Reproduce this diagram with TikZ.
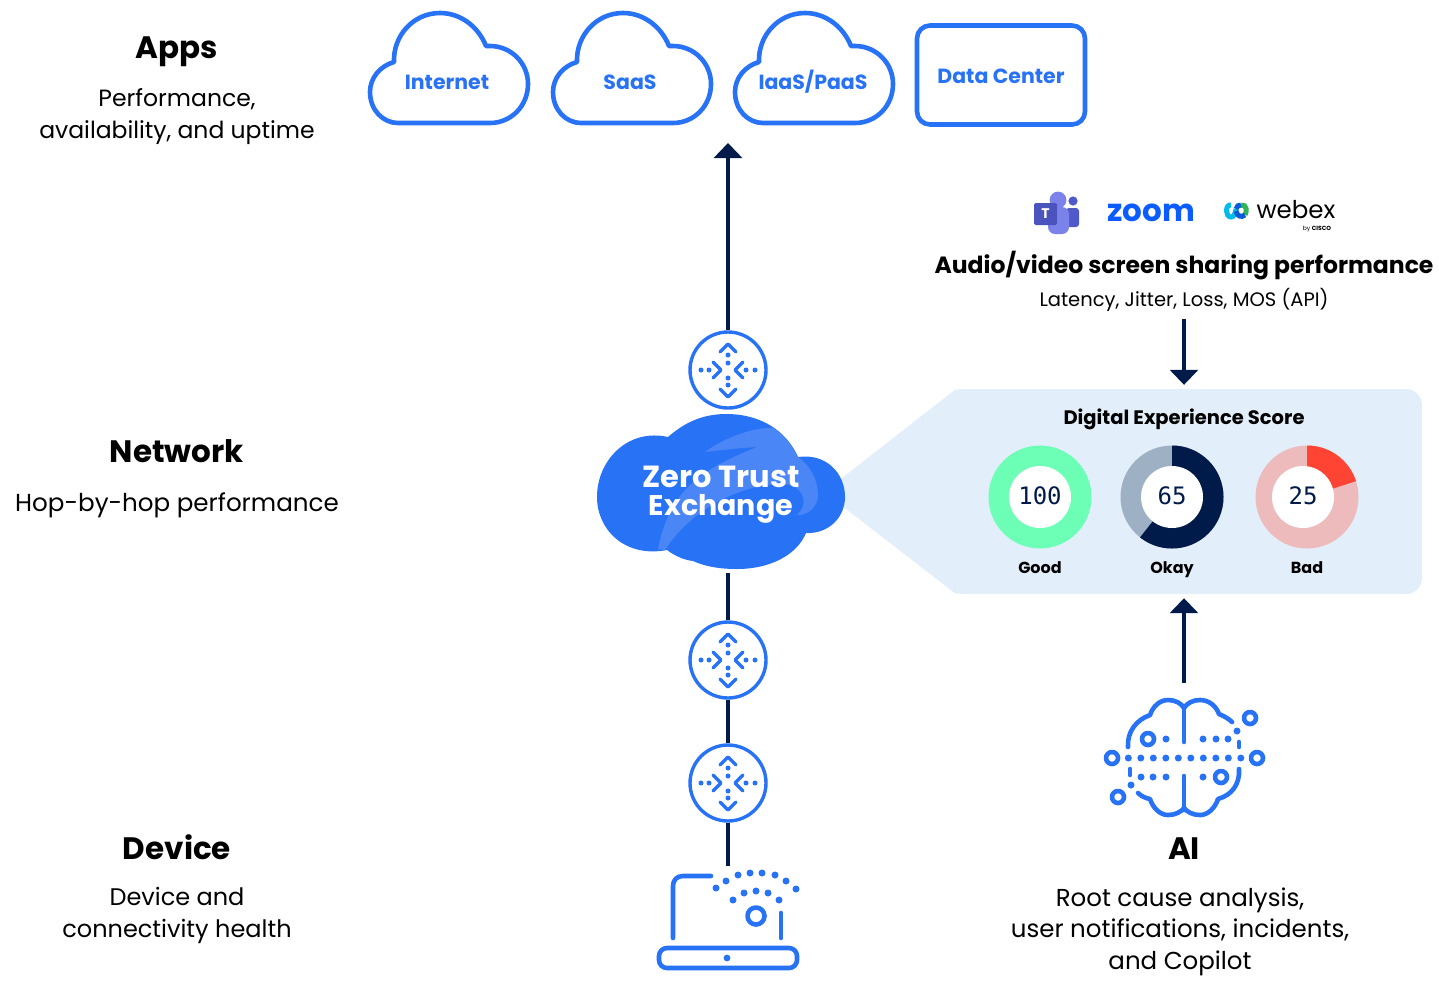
\documentclass[tikz,border=0pt]{standalone}
\usepackage{fontspec}
\setmainfont{Poppins}
\newfontfamily\scorefont{DejaVu Sans Mono}
\usetikzlibrary{arrows.meta}
\definecolor{zblue}{HTML}{2872F5}
\definecolor{zlight}{HTML}{4B86F7}
\definecolor{znavy}{HTML}{001A4A}
\definecolor{zpanel}{HTML}{E2EFFA}
\definecolor{zgood}{HTML}{6DFFB6}
\definecolor{zokay}{HTML}{9EB0C3}
\definecolor{zbad}{HTML}{EDBBBC}
\definecolor{zred}{HTML}{FF4433}
\definecolor{teamsa}{HTML}{5059C9}
\definecolor{teamsb}{HTML}{7B83EB}
\definecolor{teamsc}{HTML}{4B53BC}
\definecolor{zoomblue}{HTML}{0B5CFF}
\definecolor{webexa}{HTML}{00BCEB}
\definecolor{webexb}{HTML}{2FB457}
\definecolor{webexc}{HTML}{0A5CD6}

\begin{document}
\begin{tikzpicture}[
  x=1pt,
  y=-1pt,
  >={Triangle[width=28pt,length=15pt]},
  link/.style={draw=znavy,line width=3.2pt},
  icon/.style={draw=zblue,line width=4.6pt,line cap=round,line join=round},
  heading/.style={font=\fontsize{31}{34}\selectfont\bfseries,inner sep=0,text height=23pt,text depth=7pt},
  body/.style={font=\fontsize{23.5}{31.5}\selectfont,align=center,inner sep=0},
  applabel/.style={text=zblue,font=\fontsize{20.5}{24}\selectfont\bfseries,inner sep=0,text height=15pt,text depth=5pt},
  grade/.style={font=\fontsize{16}{18}\selectfont\bfseries,inner sep=0,text height=12pt,text depth=4pt},
  score/.style={text=znavy,font=\fontsize{24}{26}\selectfont\scorefont,inner sep=0},
  router/.style={draw=zblue,fill=white,circle,line width=3.4pt,minimum width=76pt,inner sep=0},
  appcloud/.pic={
    \draw[icon] (29,111) -- (121,111)
      .. controls (142,111) and (159,94) .. (159,72)
      .. controls (159,51) and (142,34) .. (121,34) -- (117,34)
      .. controls (109,14) and (91,1) .. (71,1)
      .. controls (44,1) and (24,24) .. (25,50)
      .. controls (11,54) and (1,66) .. (1,80)
      .. controls (1,98) and (14,111) .. (29,111) -- cycle;
  },
  rtricon/.pic={
    \draw[icon,line width=3.4pt] (-8,-18) -- (0,-26) -- (8,-18);
    \draw[icon,line width=3.4pt] (-8,19) -- (0,27) -- (8,19);
    \draw[icon,line width=3.4pt] (-15,-8) -- (-7,0) -- (-15,8);
    \draw[icon,line width=3.4pt] (15,-8) -- (7,0) -- (15,8);
    \foreach \p in {(0,-15),(0,-7),(0,8),(0,15),(-27,0),(-19,0),(18,0),(27,0)}
      \fill[zblue] \p circle [radius=2.5pt];
  }
  ]

  \useasboundingbox (0, 0) rectangle (1439, 986);


  % left column
  \node [heading] (apps) at (177, 50.5) {Apps};
  \node [body] (appstxt) at (177, 116.5) {Performance,\\availability, and uptime};
  \node [heading] (network) at (177, 454.5) {Network};
  \node [body,font=\fontsize{24.6}{31.5}\selectfont] (networktxt) at (177, 505) {Hop-by-hop performance};
  \node [heading] (device) at (177, 851.5) {Device};
  \node [body,font=\fontsize{24}{31.5}\selectfont] (devicetxt) at (177, 915.5) {Device and\\connectivity health};


  % apps
  \pic at (369, 12) {appcloud};
  \pic at (552, 12) {appcloud};
  \pic at (734, 12) {appcloud};
  \node [applabel] (internet) at (447, 84) {Internet};
  \node [applabel] (saas) at (630, 84) {SaaS};
  \node [applabel] (iaas) at (813, 84) {IaaS/PaaS};
  \node [applabel,draw=zblue,line width=4.6pt,rounded corners=13pt,minimum width=168pt,minimum height=99pt] (dc) at (1001, 75) {};
  \node [applabel] (dctxt) at (1001, 78) {Data Center};


  % score panel, goes under the cloud
  \fill [zpanel] (824, 492) -- (956, 389) -- (956, 594) -- cycle;
  \node [fill=zpanel,rounded corners=16pt,minimum width=476pt,minimum height=205pt,inner sep=0] (panel) at (1184, 491.5) {};
  \node [font=\fontsize{19.5}{22}\selectfont\bfseries,inner sep=0] (dex) at (1184, 419) {Digital Experience Score};

  \coordinate (good) at (1040, 497);
  \coordinate (okay) at (1172, 497);
  \coordinate (bad) at (1307, 497);
  \fill [zgood] (good) circle [radius=51.5pt];
  \fill [white] (good) circle [radius=31pt];
  \fill [zokay] (okay) circle [radius=51.5pt];
  \fill [znavy] (okay) -- +(90:51.5pt) arc (90:-128.4:51.5pt) -- cycle;
  \fill [white] (okay) circle [radius=31pt];
  \fill [zbad] (bad) circle [radius=51.5pt];
  \fill [zred] (bad) -- +(90:51.5pt) arc (90:18:51.5pt) -- cycle;
  \fill [white] (1303, 497) circle [radius=31pt];
  \node [score] (goodval) at (1040, 496) {100};
  \node [score] (okayval) at (1172, 496) {65};
  \node [score] (badval) at (1303, 496) {25};
  \node [grade] (goodtxt) at (1040, 569) {Good};
  \node [grade] (okaytxt) at (1172, 569) {Okay};
  \node [grade] (badtxt) at (1307, 569) {Bad};


  % zero trust exchange
  \fill [zblue] (668, 437)
    .. controls (684, 423) and (702, 414) .. (726, 414)
    .. controls (760, 414) and (786, 430) .. (798, 457)
    .. controls (826, 453) and (845, 473) .. (845, 497)
    .. controls (845, 518) and (828, 534) .. (806, 533)
    .. controls (797, 555) and (770, 569) .. (737, 569)
    .. controls (718, 569) and (704, 566) .. (693, 561)
    .. controls (684, 560) and (675, 556) .. (667, 550)
    .. controls (625, 558) and (597, 530) .. (597, 497)
    .. controls (597, 460) and (628, 428) .. (668, 437) -- cycle;
  \fill [zlight] (705, 452)
    .. controls (725, 437) and (755, 427) .. (773, 428)
    .. controls (785, 435) and (793, 447) .. (798, 457)
    .. controls (810, 465) and (818, 480) .. (818, 495)
    .. controls (818, 508) and (806, 516) .. (797, 515)
    .. controls (808, 505) and (805, 490) .. (790, 485)
    .. controls (745, 480) and (690, 510) .. (665, 550)
    -- (658, 549)
    .. controls (670, 490) and (700, 470) .. (757, 447)
    .. controls (740, 448) and (720, 450) .. (705, 452) -- cycle;
  \node [inner sep=0,minimum width=248pt,minimum height=162pt] (zte) at (721, 492) {};
  \node [text=white,font=\fontsize{30.5}{28}\selectfont\bfseries,align=center,inner sep=0] (ztetxt) at (721, 495) {Zero Trust\\{\fontsize{28.5}{28}\selectfont Exchange}};


  % routers
  \node [router] (rtrtop) at (728, 370) {};
  \pic at (rtrtop) {rtricon};
  \node [router] (rtrmid) at (728, 660) {};
  \pic at (rtrmid) {rtricon};
  \node [router] (rtrlow) at (728, 783) {};
  \pic at (rtrlow) {rtricon};


  % laptop
  \coordinate (laptop) at (728, 866);
  \draw [icon] (673, 938) -- (673, 886) .. controls (673, 880) and (677, 876) .. (683, 876) -- (711, 876);
  \draw [icon] (781, 913) -- (781, 938);
  \draw [icon,rounded corners=8pt] (659, 948) rectangle (797, 968);
  \draw [icon] (756, 916) circle [radius=8.5pt];
  \fill [zblue] (727, 958) circle [radius=3.4pt];
  \foreach \p in {(716,888),(726,881),(738,875),(750,873),(762,873),(775,875),(786,881),(796,889),(733,900),(744,893),(756,891),(768,893),(779,900)}
    \fill [zblue] \p circle [radius=3.5pt];


  % logos
  \fill [teamsa] (1073, 201) circle [radius=4.6pt];
  \fill [teamsa,rounded corners=3pt] (1066, 208) rectangle (1079, 227);
  \fill [teamsb] (1058, 200) circle [radius=8.4pt];
  \fill [teamsb,rounded corners=7pt] (1048, 207) rectangle (1069, 234);
  \node [fill=teamsc,text=white,rounded corners=1.5pt,font=\fontsize{14}{14}\selectfont\bfseries,minimum width=23pt,minimum height=22pt,inner sep=0] (teams) at (1045.5, 214) {T};
  \node [text=zoomblue,font=\fontsize{31}{34}\selectfont\bfseries,inner sep=0] (zoom) at (1151, 213) {zoom};
  \draw [webexa,line width=5pt] (1231, 205) .. controls (1225, 204) and (1225, 217) .. (1231, 217) .. controls (1235, 217) and (1235, 212) .. (1236, 209);
  \draw [webexb,line width=5pt] (1241, 205) .. controls (1247, 204) and (1247, 212) .. (1245, 215);
  \draw [webexc,line width=5pt] (1236, 209) .. controls (1237, 206) and (1238, 205) .. (1241, 205);
  \draw [webexc,line width=5pt] (1236, 211) .. controls (1237, 216) and (1241, 218) .. (1245, 215);
  \node [font=\fontsize{24.5}{26}\selectfont,inner sep=0] (webex) at (1296, 210) {webex};
  \node [font=\fontsize{6}{7}\selectfont,inner sep=0] (cisco) at (1317, 229.5) {by \textbf{CISCO}};

  \node [font=\fontsize{23.5}{28}\selectfont\bfseries,inner sep=0] (avtxt) at (1184, 266) {Audio/video screen sharing performance};
  \node [font=\fontsize{19.5}{22}\selectfont,inner sep=0,minimum height=38pt] (latency) at (1184, 299.5) {Latency, Jitter, Loss, MOS (API)};


  % ai
  \coordinate (brain) at (1184, 683);
  \draw [icon] (1128, 747) .. controls (1127, 732) and (1136, 720) .. (1150, 715)
    .. controls (1153, 706) and (1160, 700) .. (1168, 700)
    .. controls (1175, 700) and (1181, 703) .. (1184, 708)
    .. controls (1187, 703) and (1193, 700) .. (1200, 700)
    .. controls (1209, 700) and (1216, 706) .. (1219, 714)
    .. controls (1224, 716) and (1229, 719) .. (1232, 722);
  \draw [icon] (1239, 769) .. controls (1240, 784) and (1232, 795) .. (1218, 799)
    .. controls (1215, 808) and (1208, 815) .. (1200, 815)
    .. controls (1193, 815) and (1187, 812) .. (1184, 808)
    .. controls (1181, 812) and (1175, 815) .. (1168, 815)
    .. controls (1160, 815) and (1153, 808) .. (1150, 799)
    .. controls (1145, 798) and (1141, 796) .. (1138, 793);
  \draw [icon] (1184, 708) -- (1184, 742);
  \draw [icon] (1184, 776) -- (1184, 810);
  \draw [icon] (1239, 742) -- (1239, 747);
  \draw [icon] (1130, 769) -- (1130, 775);
  \foreach \p in {(1148,739),(1250,718),(1112,758),(1257,758),(1221,777),(1118,797)}
    \draw [icon] \p circle [radius=6pt];
  \foreach \i in {0,...,9}
    \fill [zblue] (1128.3 + 12.5 * \i, 758) circle [radius=3.5pt];
  \foreach \p in {(1166,739),(1203,739),(1216,739),(1228,739),(1237,731),(1141,777),(1153,777),(1166,777),(1203,777),(1131,785)}
    \fill [zblue] \p circle [radius=3.5pt];

  \node [heading] (ai) at (1184, 851.5) {AI};
  \node [body,font=\fontsize{24.5}{31.5}\selectfont] (aitxt) at (1180, 931.5) {Root cause analysis,\\user notifications, incidents,\\and Copilot};


  % connectors
  \coordinate (uptip) at (728, 143);
  \draw [link,->] (rtrtop) -- (uptip);
  \draw [link] (rtrmid.north) -- (rtrmid.north |- zte.south);
  \draw [link] (rtrmid) -- (rtrlow);
  \draw [link] (rtrlow) -- (laptop);
  \draw [link,->,shorten >=4pt] (latency.south) -- (latency.south |- panel.north);
  \draw [link,->,shorten >=4pt] (brain) -- (brain |- panel.south);
\end{tikzpicture}
\end{document}
